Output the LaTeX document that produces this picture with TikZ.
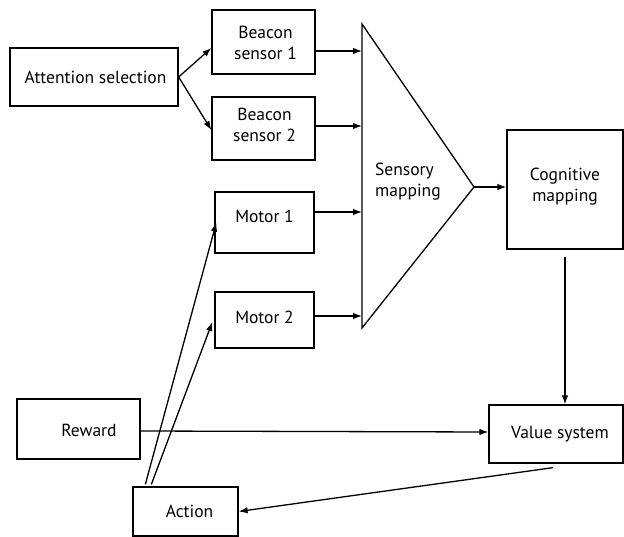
\documentclass[tikz,border=0pt]{standalone}
\usepackage{fontspec}
\setmainfont{PT Sans}
\usetikzlibrary{arrows.meta,calc}
\newcommand{\twol}[3]{\raisebox{#1}[\height][\depth]{\begin{tabular}{@{}c@{}}#2\\[-1pt]#3\end{tabular}}}
\newcommand{\onel}[2]{\raisebox{#1}[\height][\depth]{#2}}
\begin{document}
\begin{tikzpicture}[x=1pt,y=-1pt,
  box/.style={draw,line width=1.3pt,rectangle,inner sep=0pt,align=center,font=\fontsize{17.5}{22}\selectfont},
  arr/.style={line width=1.3pt,-{Latex[length=9pt,width=6.5pt]}},
  ln/.style={line width=1.3pt}]
\useasboundingbox (0,0) rectangle (624,537);
\node[box,minimum width=168pt,minimum height=58pt] (att) at (94,77) {\hspace{3pt}Attention selection};
\node[box,minimum width=103pt,minimum height=64pt] (b1) at (263.5,42) {\hspace{4pt}\twol{-3pt}{Beacon}{sensor 1}};
\node[box,minimum width=103pt,minimum height=63pt] (b2) at (263.5,128.5) {\hspace{2pt}\twol{2pt}{Beacon}{sensor 2}};
\node[box,minimum width=99pt,minimum height=61pt] (m1) at (264.5,222.5) {\onel{6pt}{Motor 1}};
\node[box,minimum width=99pt,minimum height=56pt] (m2) at (264.5,320) {\onel{3pt}{Motor 2}};
\node[box,minimum width=116pt,minimum height=119pt] (cog) at (565,189.5) {\twol{3pt}{Cognitive}{mapping}};
\node[box,minimum width=134pt,minimum height=58pt] (val) at (556,434) {\hspace{8pt}Value system};
\node[box,minimum width=123pt,minimum height=60pt] (rew) at (78.5,429) {\hspace{21pt}\onel{-1pt}{Reward}};
\node[box,minimum width=105pt,minimum height=49pt] (act) at (185.5,511.5) {\hspace{8pt}Action};
% triangle
\coordinate (tt) at (362,24);
\coordinate (apex) at (474,187);
\coordinate (tb) at (362,328);
\draw[ln,line join=miter] (tt) -- (apex) -- (tb) -- cycle;
\node[align=left,anchor=west,font=\fontsize{17.5}{21}\selectfont,inner sep=0pt] (sens) at (375,182) {Sensory\\mapping};
% arrows
\draw[arr] (att.east) -- (b1.west |- {(0,48)});
\draw[arr] (att.east) -- (b2.west |- {(0,130)});
\draw[arr] (b1.east |- {(0,51)}) -- (tt |- {(0,51)});
\draw[arr] (b2.east |- {(0,126)}) -- (tt |- {(0,126)});
\draw[arr] (m1.east |- {(0,212)}) -- (tt |- {(0,212)});
\draw[arr] (m2.east |- {(0,316)}) -- (tt |- {(0,316)});
\draw[arr] (apex) -- (cog.west |- apex);
\draw[arr] ($(cog.south)+(0,7)$) -- (cog.south |- val.north);
\draw[arr] (rew.east |- {(0,431)}) -- (val.west |- {(0,432)});
\draw[arr] ($(val.south)+(-3,4)$) -- (act.east);
\draw[arr] ($(act.north west)+(13,-2)$) -- ($(m1.west)+(2,0)$);
\draw[arr] ($(act.north west)+(19,-2)$) -- ($(m2.west)+(-2,2)$);
\end{tikzpicture}
\end{document}
